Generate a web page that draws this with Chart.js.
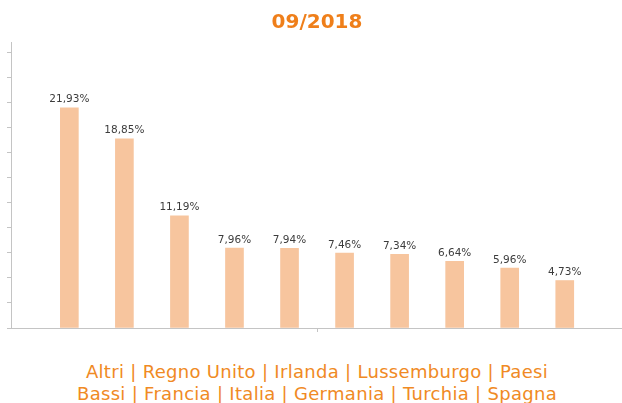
<!DOCTYPE html>
<html>
<head>
<meta charset="utf-8">
<script src="https://cdn.jsdelivr.net/npm/chart.js@4"></script>
<style>
  body { margin: 0; width: 622px; height: 403px; overflow: hidden; background: #fff; position: relative; }
  #title {
    position: absolute; top: 9px; left: 0; width: 634px; text-align: center;
    font: bold 20px "DejaVu Sans", sans-serif; line-height: 24px; color: #EF7F1A;
  }
  #wrap { position: absolute; top: 0; left: 0; width: 622px; height: 340px; }
  #names {
    position: absolute; top: 361px; left: 70px; width: 494px; text-align: center;
    font: 18px "DejaVu Sans", sans-serif; letter-spacing: 0.3px; line-height: 22px; color: #F08A24;
  }
</style>
</head>
<body>
<div id="wrap"><canvas id="chart"></canvas></div>
<div id="title"></div>
<div id="names"></div>
<script>
const period = '09/2018'
const categories = ['Altri', 'Regno Unito', 'Irlanda', 'Lussemburgo', 'Paesi Bassi', 'Francia', 'Italia', 'Germania', 'Turchia', 'Spagna']
const shares = [21.93, 18.85, 11.19, 7.96, 7.94, 7.46, 7.34, 6.64, 5.96, 4.73]
const yTicks = [0, 2.5, 5, 7.5, 10, 12.5, 15, 17.5, 20, 22.5, 25, 27.5]

document.getElementById('title').textContent = period
document.getElementById('names').textContent = categories.join(' | ')

const axisColor = '#c4c4c4'

// draws the percentage over each bar
const valueLabels = {
  id: 'valueLabels',
  afterDatasetsDraw(chart) {
    const ctx = chart.ctx
    const meta = chart.getDatasetMeta(0)
    ctx.save()
    ctx.font = '10.5px "DejaVu Sans", sans-serif'
    ctx.fillStyle = '#3c3c3c'
    ctx.textAlign = 'center'
    ctx.textBaseline = 'bottom'
    meta.data.forEach((bar, i) => {
      const text = shares[i].toFixed(2).replace('.', ',') + '%'
      ctx.fillText(text, bar.x, bar.y - 3)
    })
    ctx.restore()
  }
}

new Chart(document.getElementById('chart'), {
  type: 'bar',
  data: {
    datasets: [{
      data: shares.map((v, i) => ({ x: i, y: v })),
      backgroundColor: '#F7C59E',
      borderWidth: 0,
      barThickness: 18
    }]
  },
  options: {
    responsive: true,
    maintainAspectRatio: false,
    animation: false,
    layout: { padding: { top: 42, left: 7, right: 0, bottom: 8 } },
    plugins: {
      legend: { display: false },
      tooltip: { enabled: false }
    },
    scales: {
      x: {
        type: 'linear',
        min: -1.06,
        max: 10.04,
        offset: false,
        afterBuildTicks: axis => { axis.ticks = [{ value: 4.5 }] },
        ticks: { display: false },
        grid: { offset: false, drawOnChartArea: false, drawTicks: true, tickLength: 4, color: axisColor },
        border: { color: axisColor, width: 1 }
      },
      y: {
        min: 0,
        max: 28.5,
        afterBuildTicks: axis => { axis.ticks = yTicks.map(v => ({ value: v })) },
        ticks: { display: false },
        grid: { drawOnChartArea: false, drawTicks: true, tickLength: 4, color: axisColor },
        border: { color: axisColor, width: 1 }
      }
    }
  },
  plugins: [valueLabels]
})
</script>
</body>
</html>
